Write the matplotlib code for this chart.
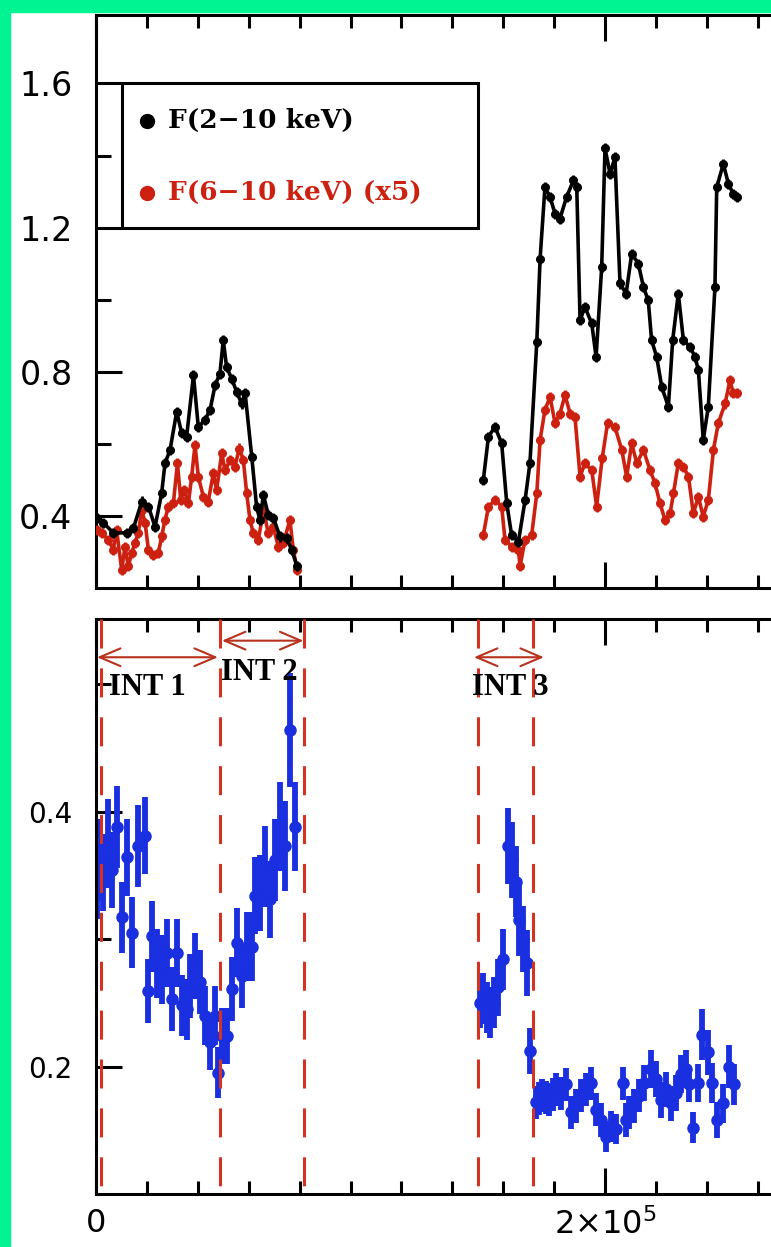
import numpy as np
import matplotlib
matplotlib.use('Agg')
import matplotlib.pyplot as plt
from matplotlib.patches import Rectangle
from matplotlib.ticker import FixedLocator, FixedFormatter, MultipleLocator
import matplotlib.transforms as mtransforms

# ---------------- data ----------------
# F(2-10 keV), black
t_f210 = [300, 2900, 6800, 12100, 14700, 18000, 20600, 23200, 25800, 27100, 29100, 31700,
          33700, 35600, 38300, 40200, 42800, 44800, 46800, 48700, 50000, 51300, 53300, 55300,
          57200, 58600, 61200, 63100, 64400, 65800, 67700, 69700, 72300, 74900, 76900, 78900,
          152200, 154200, 156800, 159400, 161400, 163300, 166000, 168600, 170500, 173200, 174500,
          176400, 178400, 180400, 182300, 184900, 187600, 188900, 190200, 192100, 194800, 196500,
          198700, 200000, 202000, 203900, 205900, 208300, 210500, 213100, 215100, 217000, 218300,
          220300, 222300, 224900, 226600, 228800, 230800, 233400, 235400, 236700, 238600, 240600,
          243200, 243900, 246500, 248500, 250400, 251700]
f210 = [0.394, 0.381, 0.353, 0.353, 0.366, 0.440, 0.426, 0.370, 0.463, 0.546, 0.583, 0.689,
        0.629, 0.620, 0.790, 0.647, 0.666, 0.694, 0.763, 0.795, 0.888, 0.814, 0.781, 0.744,
        0.712, 0.740, 0.564, 0.426, 0.389, 0.458, 0.403, 0.394, 0.343, 0.338, 0.306, 0.262,
        0.500, 0.620, 0.647, 0.601, 0.435, 0.347, 0.329, 0.444, 0.546, 0.883, 1.114,
        1.312, 1.285, 1.238, 1.225, 1.285, 1.331, 1.312, 0.943, 0.980, 0.934, 0.841,
        1.090, 1.420, 1.349, 1.395, 1.045, 1.017, 1.128, 1.100, 1.035, 0.998, 0.888,
        0.841, 0.758, 0.703, 0.888, 1.017, 0.888, 0.869, 0.841, 0.804, 0.611, 0.703,
        1.035, 1.312, 1.377, 1.321, 1.294, 1.285]

# F(6-10 keV) x5, red
t_f610 = [300, 2200, 4900, 6800, 8100, 10100, 11400, 12700, 14000, 15300, 16600, 18000, 19300,
          20600, 22500, 24500, 25800, 27100, 28400, 30400, 32000, 33300, 34600, 36300, 37600,
          38900, 40200, 42200, 44100, 46100, 47400, 49400, 50700, 52700, 54600, 56300, 57900,
          59200, 60500, 61800, 63800, 65800, 67700, 69700, 71600, 73600, 76200, 77500, 79100,
          152200, 154200, 156800, 159400, 160700, 163300, 166000, 166600, 168600, 171200, 173200,
          174500, 176400, 178400, 180400, 182300, 184300, 186300, 188200, 190200, 192100, 194800,
          196700, 198900, 201000, 203900, 206600, 208500, 210500, 212500, 215100, 217700, 219700,
          221600, 223600, 225600, 226900, 228800, 230800, 232800, 234700, 236700, 238600, 240600,
          242600, 244500, 247200, 249100, 250400, 251700]
f610 = [0.361, 0.352, 0.334, 0.306, 0.361, 0.250, 0.315, 0.260, 0.297, 0.324, 0.352, 0.417, 0.380,
        0.306, 0.292, 0.297, 0.343, 0.389, 0.426, 0.435, 0.546, 0.444, 0.472, 0.435, 0.509,
        0.597, 0.509, 0.453, 0.440, 0.518, 0.472, 0.574, 0.527, 0.555, 0.537, 0.587, 0.555,
        0.463, 0.389, 0.352, 0.334, 0.417, 0.352, 0.370, 0.315, 0.324, 0.389, 0.306, 0.250,
        0.347, 0.426, 0.444, 0.426, 0.334, 0.315, 0.306, 0.260, 0.334, 0.347, 0.463,
        0.611, 0.694, 0.730, 0.657, 0.684, 0.735, 0.684, 0.675, 0.509, 0.546, 0.527,
        0.426, 0.560, 0.657, 0.647, 0.583, 0.509, 0.601, 0.546, 0.583, 0.527, 0.490,
        0.435, 0.389, 0.407, 0.463, 0.546, 0.537, 0.509, 0.407, 0.453, 0.398, 0.444,
        0.583, 0.657, 0.712, 0.777, 0.740, 0.740]
flux_err = 0.014

# Hardness (bottom panel), blue
t_hr = [500, 1570, 2880, 4850, 6160, 8120, 10090, 12050, 14010, 16630, 19250, 20560, 21870,
        23830, 25800, 27760, 29730, 31690, 33660, 35620, 36930, 38900, 40860, 42830, 44790,
        46760, 48070, 49380, 51340, 53310, 55270, 57240, 59200, 61170, 62480, 64440, 66410,
        68370, 70340, 72300, 74270, 76230, 78190,
        151000, 152200, 153500, 155000, 156500, 158000, 159800, 161800, 163500, 165000, 166300,
        167800, 169200, 170600, 172800, 174100, 175400, 176700, 178100, 179400, 180700, 182600,
        184600, 186600, 188500, 190500, 192500, 194400, 196400, 198400, 200300, 202300, 204300,
        206900, 208200, 209500, 211500, 213400, 215400, 218000, 220000, 221900, 223900, 225900,
        227800, 229800, 231800, 233100, 234400, 236400, 238300, 240300, 242200, 244200, 246200,
        248800, 250800]
hr = [0.344, 0.362, 0.352, 0.375, 0.354, 0.388, 0.317, 0.364, 0.305, 0.373, 0.381, 0.259, 0.302,
      0.281, 0.276, 0.289, 0.253, 0.289, 0.248, 0.245, 0.263, 0.279, 0.266, 0.240, 0.219,
      0.240, 0.195, 0.224, 0.224, 0.261, 0.297, 0.271, 0.294, 0.294, 0.334, 0.336, 0.357,
      0.331, 0.362, 0.388, 0.373, 0.464, 0.388,
      0.250, 0.253, 0.246, 0.242, 0.250, 0.262, 0.284, 0.373, 0.362, 0.345, 0.315,
      0.300, 0.281, 0.212, 0.172, 0.175, 0.177, 0.176, 0.174, 0.178, 0.182, 0.179,
      0.186, 0.164, 0.169, 0.177, 0.182, 0.187, 0.166, 0.158, 0.145, 0.153, 0.151,
      0.187, 0.158, 0.164, 0.169, 0.177, 0.187, 0.198, 0.190, 0.174, 0.182, 0.171,
      0.179, 0.194, 0.198, 0.186, 0.152, 0.187, 0.225, 0.211, 0.187, 0.158, 0.171,
      0.200, 0.186]
hr_err = [0.028, 0.032, 0.030, 0.035, 0.030, 0.032, 0.028, 0.030, 0.028, 0.032, 0.030, 0.025, 0.028,
          0.027, 0.027, 0.027, 0.025, 0.027, 0.024, 0.024, 0.025, 0.026, 0.025, 0.023, 0.022,
          0.023, 0.020, 0.022, 0.022, 0.025, 0.027, 0.025, 0.027, 0.027, 0.030, 0.030, 0.032,
          0.030, 0.032, 0.035, 0.035, 0.045, 0.035,
          0.020, 0.020, 0.020, 0.020, 0.020, 0.022, 0.024, 0.030, 0.030, 0.028, 0.028,
          0.026, 0.026, 0.018, 0.013, 0.013, 0.013, 0.013, 0.013, 0.013, 0.013, 0.013,
          0.013, 0.013, 0.013, 0.013, 0.013, 0.013, 0.013, 0.013, 0.012, 0.012, 0.012,
          0.013, 0.013, 0.013, 0.013, 0.013, 0.014, 0.015, 0.014, 0.014, 0.014, 0.014,
          0.014, 0.015, 0.015, 0.014, 0.012, 0.015, 0.020, 0.018, 0.016, 0.014, 0.015,
          0.017, 0.016]

int_lines = [2000, 48700, 81700, 150100, 171700]
int_labels = ['INT 1', 'INT 2', 'INT 3']
int_arrow_start = [400, 49500, 148500]
int_arrow_end = [47900, 81500, 176000]
int_arrow_y = [0.521, 0.534, 0.521]
int_label_x = [5000, 49300, 147800]
int_label_y = [0.497, 0.509, 0.497]

legend_labels = ['F(2\u221210 keV)', 'F(6\u221210 keV) (x5)']

# ---------------- style ----------------
W, H, DPI = 771, 1247, 100
BLACK = '#000000'
RED = '#cc2010'
BLUE = '#1a2fe0'
DASHRED = '#d23322'
ARROWRED = '#b8321e'
GREEN = '#00f592'
XMAX = 270000
PX_PER_X = 509 / 2e5

fig = plt.figure(figsize=(W / DPI, H / DPI), dpi=DPI)


def px_rect(x0, y0, x1, y1):
    return [x0 / W, 1 - y1 / H, (x1 - x0) / W, (y1 - y0) / H]


right_px = 96 + XMAX * PX_PER_X
ax1 = fig.add_axes(px_rect(96, 15, right_px, 588))
ax2 = fig.add_axes(px_rect(96, 619, right_px, 1194))


def segments(t, v, e=None, gap=30000):
    t = np.asarray(t, float)
    v = np.asarray(v, float)
    idx = np.where(np.diff(t) > gap)[0] + 1
    bounds = [0] + list(idx) + [len(t)]
    out = []
    for a, b in zip(bounds[:-1], bounds[1:]):
        ee = None if e is None else (np.asarray(e, float)[a:b] if np.ndim(e) else e)
        out.append((t[a:b], v[a:b], ee))
    return out


for tt, vv, ee in segments(t_f610, f610, flux_err):
    ax1.errorbar(tt, vv, yerr=ee, fmt='-o', color=RED, ms=5.5, lw=2.6,
                 elinewidth=2.0, capsize=0, zorder=3)
for tt, vv, ee in segments(t_f210, f210, flux_err):
    ax1.errorbar(tt, vv, yerr=ee, fmt='-o', color=BLACK, ms=5.5, lw=2.6,
                 elinewidth=2.0, capsize=0, zorder=4)

ax2.errorbar(t_hr, hr, yerr=hr_err, fmt='o', color=BLUE, ms=8, elinewidth=4.2,
             capsize=0, zorder=2)

# axes
for ax in (ax1, ax2):
    ax.set_xlim(0, XMAX)
    for s in ax.spines.values():
        s.set_linewidth(2.2)
    ax.xaxis.set_major_locator(FixedLocator([0, 2e5]))
    ax.xaxis.set_minor_locator(MultipleLocator(2e4))
    ax.tick_params(which='both', direction='in', top=True, right=False, width=2.2)
    ax.tick_params(axis='x', which='major', length=19)
    ax.tick_params(axis='x', which='minor', length=9.5)
    ax.tick_params(axis='y', which='major', length=19, pad=17)
    ax.tick_params(axis='y', which='minor', length=10.5)

ax1.set_ylim(0.2, 1.79)
ax1.yaxis.set_major_locator(FixedLocator([0.4, 0.8, 1.2, 1.6]))
ax1.yaxis.set_minor_locator(FixedLocator([0.6, 1.0, 1.4]))
ax1.yaxis.set_major_formatter(FixedFormatter(['0.4', '0.8', '1.2', '1.6']))
ax1.tick_params(axis='x', labelbottom=False)
ax1.tick_params(axis='y', labelsize=24)

ax2.set_ylim(0.1, 0.551)
ax2.yaxis.set_major_locator(FixedLocator([0.2, 0.4]))
ax2.yaxis.set_minor_locator(FixedLocator([0.3, 0.5]))
ax2.yaxis.set_major_formatter(FixedFormatter(['0.2', '0.4']))
ax2.xaxis.set_major_formatter(FixedFormatter(['0', r'$\mathdefault{2{\times}10^{5}}$']))
ax2.tick_params(axis='y', labelsize=20)
ax2.tick_params(axis='x', labelsize=23, pad=10)

# legend box (top panel)
bt = mtransforms.blended_transform_factory(ax1.transAxes, ax1.transData)
ax1.add_patch(Rectangle((0.0378, 1.2), 0.518, 0.4, transform=bt, fill=False,
                        edgecolor='black', lw=2.2, zorder=5, clip_on=False))
leg_colors = [BLACK, RED]
leg_y = [1.497, 1.297]
for lab, c, y in zip(legend_labels, leg_colors, leg_y):
    ax1.plot([0.0742], [y], 'o', color=c, ms=10, transform=bt, clip_on=False, zorder=6)
    ax1.text(0.1048, y, lab, transform=bt, color=c, fontsize=19,
             family='DejaVu Serif', fontweight='bold', va='center', ha='left', zorder=6)

# intervals (bottom panel)
vt = mtransforms.blended_transform_factory(ax2.transData, ax2.transAxes)
for x in int_lines:
    ax2.plot([x, x], [1.0, 0.0], transform=vt, color=DASHRED, lw=2.2,
             dashes=(9.5, 6.5), zorder=5, clip_on=False)
for lab, x0, x1, ya, lx, ly in zip(int_labels, int_arrow_start, int_arrow_end,
                                   int_arrow_y, int_label_x, int_label_y):
    ax2.annotate('', xy=(x1, ya), xytext=(x0, ya),
                 arrowprops=dict(arrowstyle='<->,head_length=0.75,head_width=0.32',
                                 color=ARROWRED, lw=1.5, shrinkA=0, shrinkB=0,
                                 mutation_scale=20), zorder=6)
    ax2.text(lx, ly, lab, fontsize=22, family='Liberation Serif', fontweight='bold',
             color='black', va='center', ha='left', zorder=6)

# green frame
fig.patches.append(Rectangle((0, 0), 10 / W, 1, transform=fig.transFigure,
                             color=GREEN, zorder=20))
fig.patches.append(Rectangle((0, 1 - 12 / H), 1, 12 / H, transform=fig.transFigure,
                             color=GREEN, zorder=20))

fig.savefig('out.png', dpi=DPI)
